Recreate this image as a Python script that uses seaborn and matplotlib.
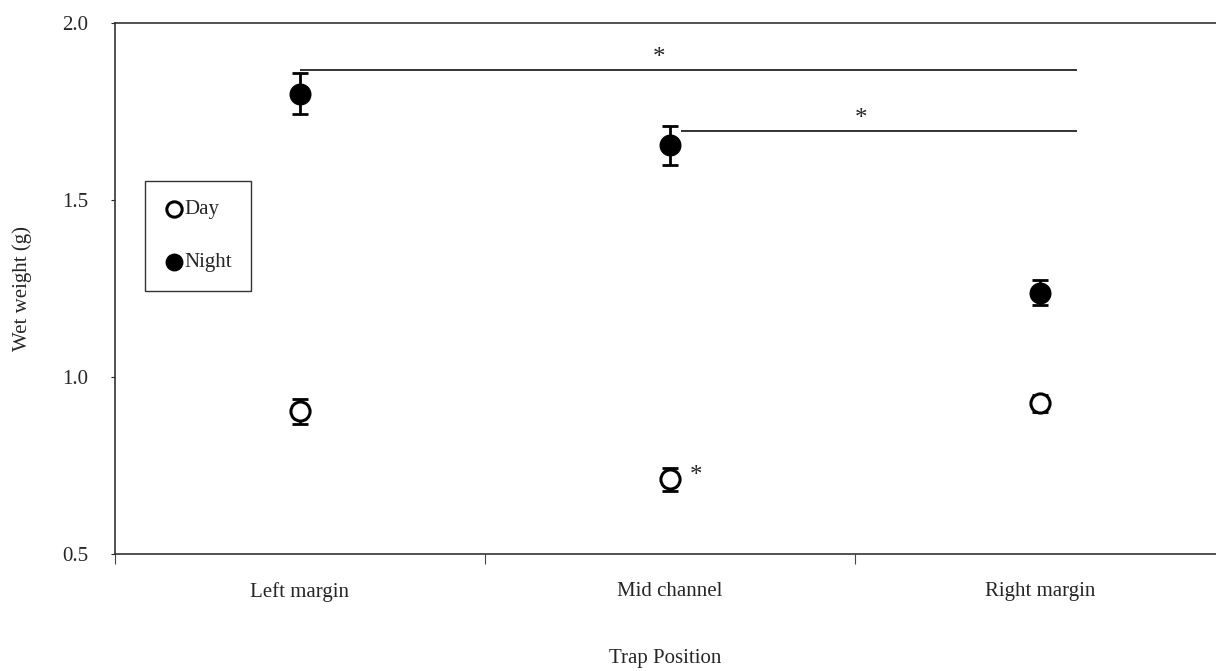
import matplotlib
matplotlib.use("Agg")
import matplotlib.pyplot as plt
import seaborn as sns
import numpy as np
import pandas as pd

categories = ["Left margin", "Mid channel", "Right margin"]
day_mean = [0.903, 0.711, 0.926]
day_err = [0.035, 0.033, 0.024]
night_mean = [1.800, 1.655, 1.238]
night_err = [0.058, 0.055, 0.036]
yticks = [0.5, 1.0, 1.5, 2.0]
sig_lines = [(0, 2.1, 1.867), (1.03, 2.1, 1.695)]

sns.set_theme(style="white")
plt.rcParams['font.family'] = ['Liberation Serif', 'DejaVu Serif']

df = pd.DataFrame({
    "pos": categories * 2,
    "val": day_mean + night_mean,
    "err": day_err + night_err,
    "period": ["Day"] * 3 + ["Night"] * 3,
})

fig = plt.figure(figsize=(12.16, 6.71), dpi=100)
ax = fig.add_axes([115 / 1216, 1 - 554 / 671, 1 - 115 / 1216, (554 - 23) / 671])

x = np.arange(len(categories))
ax.errorbar(x, day_mean, yerr=day_err, fmt="none", ecolor="black", elinewidth=2,
            capsize=6, capthick=2, zorder=2)
ax.errorbar(x, night_mean, yerr=night_err, fmt="none", ecolor="black", elinewidth=2,
            capsize=6, capthick=2, zorder=2)

sns.scatterplot(data=df[df.period == "Day"], x="pos", y="val", ax=ax, marker="o",
                s=190, facecolor="white", edgecolor="black", linewidth=2.2, zorder=3,
                label="Day")
sns.scatterplot(data=df[df.period == "Night"], x="pos", y="val", ax=ax, marker="o",
                s=220, color="black", edgecolor="black", linewidth=1, zorder=3,
                label="Night")

for x0, x1, yv in sig_lines:
    ax.hlines(yv, x0, x1, color="#222222", lw=1.3, zorder=1)
ax.text(0.97, 1.90, "*", ha="center", va="center", fontsize=18)
ax.text(1.515, 1.728, "*", ha="center", va="center", fontsize=18)
ax.text(1.07, 0.72, "*", ha="center", va="center", fontsize=18)

ax.set_xlim(-0.5, -0.5 + (1216 - 115) / 370)
ax.set_ylim(0.5, 2.0)
ax.set_yticks(yticks)
ax.set_yticklabels([f"{v:.1f}" for v in yticks], fontsize=15)
ax.set_xticks([-0.5, 0.5, 1.5])
ax.set_xticklabels([])
ax.set_xticks(x, minor=True)
ax.set_xticklabels(categories, minor=True, fontsize=15)
ax.tick_params(axis="x", which="major", direction="out", length=7, width=0.8, color="#444444", bottom=True)
ax.tick_params(axis="x", which="minor", length=0, pad=20)
ax.tick_params(axis="y", direction="out", length=3, width=0.8, left=True, pad=16)

for s in ["left", "bottom", "top"]:
    ax.spines[s].set_visible(True)
    ax.spines[s].set_color("#333333")
    ax.spines[s].set_linewidth(1.2)
ax.spines["right"].set_visible(False)

ax.set_xlabel("Trap Position", fontsize=15, labelpad=34)
ax.set_ylabel("Wet weight (g)", fontsize=15, labelpad=22)

leg = ax.legend(loc="upper left", bbox_to_anchor=(30 / 1101, 1 - (181 - 23) / 531),
                borderaxespad=0.0,
                fontsize=15, frameon=True, fancybox=False, edgecolor="black",
                handletextpad=0.0, labelspacing=1.6, borderpad=0.9, handlelength=1.0,
                markerscale=0.8)
leg.get_frame().set_linewidth(1.0)

fig.savefig("out.png", dpi=100)
